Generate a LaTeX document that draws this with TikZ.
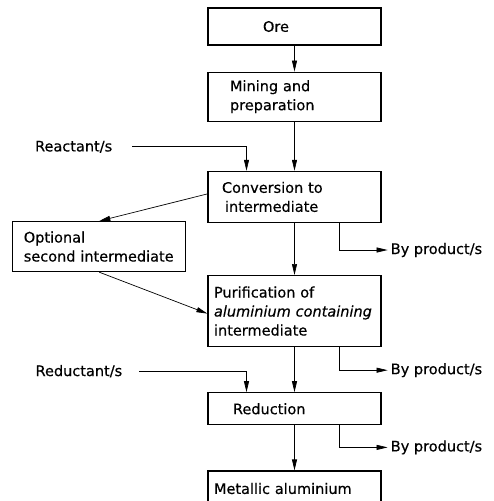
\documentclass[tikz,border=0pt]{standalone}
\usepackage{fontspec}
\setmainfont{DejaVu Sans}[FakeBold=0.4]
\usepackage{tikz}
\usetikzlibrary{arrows.meta,positioning,calc}
\tikzset{
  procbox/.style={draw,line width=1.2pt,align=left,inner ysep=2pt,
              font=\fontsize{14.5}{19}\selectfont},
  pad/.code={\pgfmathsetmacro\padw{173-2*#1}\tikzset{inner xsep=#1pt,text width=\padw pt}},
  flow/.style={-{Triangle[length=11pt,width=5pt]},line width=0.7pt},
  note/.style={font=\fontsize{14.5}{19}\selectfont,inner sep=0pt}
}
\begin{document}
\begin{tikzpicture}[node distance=26pt]
  \useasboundingbox (0,0) rectangle (493pt,-501pt);
  \node[procbox,pad=55,minimum height=37pt] (ore) at (294.5pt,-26.5pt) {Ore};
  \node[procbox,pad=22,minimum height=49pt,below=26pt of ore] (mining) {Mining and\\preparation};
  \node[procbox,pad=14,minimum height=51pt,below=49pt of mining] (conv) {Conversion to\\\hspace*{3pt}intermediate};
  \node[procbox,pad=11,minimum height=50pt,below left=-2pt and 21pt of conv.south west] (opt) {Optional\\second intermediate};
  \node[procbox,pad=6,minimum height=71pt,below=52pt of conv] (purif) {Purification of\\\textit{aluminium containing}\\intermediate};
  \node[procbox,pad=25,minimum height=32pt,below=45pt of purif] (reduct) {Reduction};
  \node[procbox,pad=6,minimum height=35pt,below=45pt of reduct] (metal) {Metallic aluminium};
  % inputs and by-products
  \node[note,anchor=east] (reac) at ($(conv.north west)+(-95pt,24pt)$) {Reactant/s};
  \node[note,anchor=east] (redt) at ($(reduct.north west)+(-85pt,21pt)$) {Reductant/s};
  \node[note,anchor=west] (bp1) at ($(conv.south east)+(9pt,-27pt)$) {By product/s};
  \node[note,anchor=west] (bp2) at ($(purif.south east)+(9pt,-23pt)$) {By product/s};
  \node[note,anchor=west] (bp3) at ($(reduct.south east)+(9pt,-22pt)$) {By product/s};
  \draw[flow] (ore) -- (mining);
  \draw[flow] (mining) -- (conv);
  \draw[flow] (conv) -- (purif);
  \draw[flow] (purif) -- (reduct);
  \draw[flow] (reduct) -- (metal);
  \draw[flow] ([xshift=20pt]reac.east) -| ([xshift=-48pt]conv.north);
  \draw[flow] ([xshift=17pt]redt.east) -| ([xshift=-48pt]reduct.north);
  \draw[flow] ([yshift=3pt]conv.west) -- (opt.north);
  \draw[flow] (opt.south) -- ([yshift=-2.5pt]purif.west);
  \draw[flow] ([xshift=45pt]conv.south) |- ([xshift=-3pt]bp1.west);
  \draw[flow] ([xshift=45pt]purif.south) |- ([xshift=-3pt]bp2.west);
  \draw[flow] ([xshift=45pt]reduct.south) |- ([xshift=-3pt]bp3.west);
\end{tikzpicture}
\end{document}
